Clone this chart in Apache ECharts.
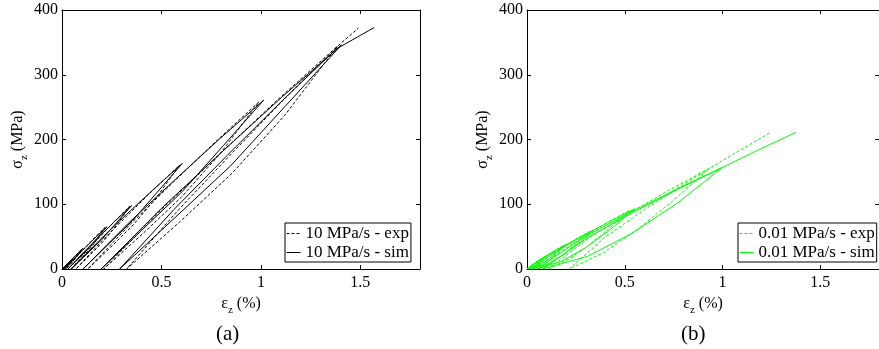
<!DOCTYPE html>
<html>
<head>
<meta charset="utf-8">
<script src="https://cdn.jsdelivr.net/npm/echarts@6/dist/echarts.min.js"></script>
<style>html,body{margin:0;padding:0;background:#fff}#c{width:879px;height:349px}</style>
</head>
<body>
<div id="c"></div>
<script>
// ---- data (strain %, stress MPa) ----
const seriesNames = ['10 MPa/s - exp', '10 MPa/s - sim', '0.01 MPa/s - exp', '0.01 MPa/s - sim'];
const yTicks = [0, 100, 200, 300, 400];
const xTicks = [0, 0.5, 1, 1.5];

const aExp = [[0,0],[0.025,7.5],[0.05,15],[0.029,6.5],[0.008,0],[0.054,16.1],[0.10,31],[0.08,21.4],[0.06,13.3],[0.04,6.5],[0.02,0],[0.069,17.3],[0.1175,33.3],[0.166,49],[0.215,64],[0.1725,44.2],[0.13,27.5],[0.0875,13.4],[0.045,0],[0.119,26.2],[0.1925,50.4],[0.266,74.2],[0.34,97],[0.2725,66.9],[0.205,41.7],[0.1375,20.4],[0.07,0],[0.2,43.2],[0.33,83.2],[0.46,122.4],[0.59,160],[0.475,110.4],[0.36,68.8],[0.245,33.6],[0.13,0],[0.345,69.7],[0.56,134.2],[0.775,197.4],[0.99,258],[0.795,178],[0.6,110.9],[0.405,54.2],[0.21,0],[0.504,92.9],[0.7975,178.9],[1.091,263.2],[1.385,344],[1.12,237.4],[0.855,147.9],[0.59,72.2],[0.325,0],[0.59,92.9],[0.855,178.9],[1.12,263.2],[1.385,344],[1.49,372]];

const aSim = [[0,0],[0.028,8.5],[0.055,16],[0.030,7.4],[0.005,0],[0.055,16.6],[0.105,32],[0.082,23.4],[0.059,14.7],[0.036,7.4],[0.013,0],[0.066,17.6],[0.119,33.8],[0.172,49.7],[0.225,65],[0.176,47.5],[0.1275,29.9],[0.079,15.0],[0.03,0],[0.11,26.5],[0.19,51],[0.27,75],[0.35,98],[0.274,71.5],[0.1985,45.1],[0.123,22.5],[0.047,0],[0.187,44],[0.326,84.8],[0.466,124.7],[0.605,163],[0.480,119],[0.3555,75],[0.231,37.5],[0.106,0],[0.333,70.5],[0.5605,135.7],[0.788,199.7],[1.015,261],[0.811,190.5],[0.606,120],[0.4015,60],[0.197,0],[0.499,93.4],[0.801,179.9],[1.103,264.7],[1.405,346],[1.126,252.6],[0.8475,159.2],[0.569,79.6],[0.29,0],[0.5625,91.8],[0.835,176.8],[1.1075,260],[1.38,340],[1.57,373]];

const bExp = [[0,0],[0.0225,5.9],[0.045,10.5],[0.0675,14.9],[0.09,19],[0.07,13.1],[0.05,7.7],[0.03,3.1],[0.01,0],[0.055,11.4],[0.1,20.5],[0.145,29],[0.19,37],[0.15,25.5],[0.11,15],[0.07,6.1],[0.03,0],[0.1025,17.9],[0.175,32.2],[0.2475,45.4],[0.32,58],[0.255,39.9],[0.19,23.5],[0.125,9.6],[0.06,0],[0.175,27.7],[0.29,50],[0.405,70.5],[0.52,90],[0.4175,61.9],[0.315,36.5],[0.2125,14.9],[0.11,0],[0.315,47.7],[0.52,86],[0.725,121.4],[0.93,155],[0.751,106.6],[0.5725,62.9],[0.394,25.6],[0.215,0],[0.394,47.7],[0.5725,86],[0.751,121.4],[0.93,155],[1.24,210]];

const bSim = [[0,0],[0.025,6.2],[0.05,11.1],[0.075,15.7],[0.1,20],[0.0758,13],[0.0515,7.1],[0.027,2.5],[0.003,0],[0.052,11.7],[0.1015,21.1],[0.151,29.8],[0.2,38],[0.1525,24.7],[0.105,13.5],[0.0575,4.8],[0.01,0],[0.0925,18.5],[0.175,33.3],[0.2575,47],[0.34,60],[0.261,39],[0.1825,21.2],[0.104,7.5],[0.025,0],[0.156,28.6],[0.2875,51.6],[0.419,72.8],[0.55,93],[0.425,60.5],[0.3,32.9],[0.175,11.6],[0.05,0],[0.2875,48.4],[0.525,87.1],[0.7625,122.9],[1.0,157],[0.77,102],[0.54,55.6],[0.31,19.6],[0.08,0],[0.31,48.4],[0.54,87.1],[0.77,122.9],[1.0,157],[1.19,185],[1.375,211]];

// ---- chart ----
const FONT = 'Liberation Serif';
const BLACK = '#000';
const GREEN = '#00ff00';

const chart = echarts.init(document.getElementById('c'), null, {renderer: 'canvas'});

const nameRich = {
  g: {fontFamily: FONT, fontSize: 16, color: BLACK, lineHeight: 24, verticalAlign: 'middle'},
  s: {fontFamily: FONT, fontSize: 11, color: BLACK, lineHeight: 24, verticalAlign: 'bottom'}
};

const axisLineStyle = {show: true, onZero: false, lineStyle: {color: BLACK, width: 1}};
const tickStyle = {show: true, inside: true, length: 4, lineStyle: {color: BLACK}};

function xAxes(grid) {
  return [
    {gridIndex: grid, type: 'value', min: 0, max: 1.8, interval: 0.5, position: 'bottom',
     axisLine: axisLineStyle, axisTick: tickStyle,
     axisLabel: {show: true, fontFamily: FONT, fontSize: 16, color: BLACK, margin: 6, showMaxLabel: false,
       formatter: v => xTicks.indexOf(v) >= 0 ? String(v) : ''},
     splitLine: {show: false},
     name: '{g|ε}{s|z}{g| (%)}', nameLocation: 'middle', nameGap: 14,
     nameTextStyle: {rich: nameRich}},
    {gridIndex: grid, type: 'value', min: 0, max: 1.8, interval: 0.5, position: 'top',
     axisLine: axisLineStyle, axisTick: tickStyle,
     axisLabel: {show: false}, splitLine: {show: false}}
  ];
}
function yAxes(grid) {
  return [
    {gridIndex: grid, type: 'value', min: 0, max: 400, interval: 100, position: 'left',
     axisLine: axisLineStyle, axisTick: tickStyle,
     axisLabel: {show: true, fontFamily: FONT, fontSize: 16, color: BLACK, margin: 4,
       formatter: v => yTicks.indexOf(v) >= 0 ? String(v) : ''},
     splitLine: {show: false},
     name: '{g|σ}{s|z}{g| (MPa)}', nameLocation: 'middle', nameGap: 24, nameRotate: 90,
     nameTextStyle: {rich: nameRich}},
    {gridIndex: grid, type: 'value', min: 0, max: 400, interval: 100, position: 'right',
     axisLine: axisLineStyle, axisTick: tickStyle,
     axisLabel: {show: false}, splitLine: {show: false}}
  ];
}

function lineSeries(name, data, xi, yi, color, dashed) {
  return {
    name: name, type: 'line', data: data, xAxisIndex: xi, yAxisIndex: yi,
    showSymbol: false, symbol: 'none', smooth: false, animation: false,
    lineStyle: {color: color, width: 1, type: dashed ? [3, 2] : 'solid'},
    itemStyle: {color: color}
  };
}

const legendCommon = {
  orient: 'vertical', backgroundColor: '#fff', borderColor: BLACK, borderWidth: 1,
  padding: [2, 2, 1, 1], itemGap: 2, itemWidth: 14, itemHeight: 14, borderRadius: 0,
  textStyle: {fontFamily: FONT, fontSize: 17, color: BLACK},
  itemStyle: {color: 'rgba(0,0,0,0)', borderColor: 'rgba(0,0,0,0)', borderWidth: 0, opacity: 0},
  lineStyle: {width: 1, opacity: 1},
  selectedMode: false
};

chart.setOption({
  animation: false,
  backgroundColor: '#fff',
  grid: [
    {left: 62, top: 10, width: 358, height: 259},
    {left: 527, top: 10, width: 358, height: 259}
  ],
  xAxis: [...xAxes(0), ...xAxes(1)],
  yAxis: [...yAxes(0), ...yAxes(1)],
  legend: [
    Object.assign({}, legendCommon, {left: 285, top: 223, data: [seriesNames[0], seriesNames[1]]}),
    Object.assign({}, legendCommon, {left: 738, top: 223, data: [seriesNames[2], seriesNames[3]]})
  ],
  graphic: [
    {type: 'text', left: 216, top: 324, style: {text: '(a)', fontFamily: FONT, fontSize: 21, fill: BLACK}},
    {type: 'text', left: 681, top: 324, style: {text: '(b)', fontFamily: FONT, fontSize: 21, fill: BLACK}}
  ],
  series: [
    lineSeries(seriesNames[0], aExp, 0, 0, BLACK, true),
    lineSeries(seriesNames[1], aSim, 0, 0, BLACK, false),
    lineSeries(seriesNames[2], bExp, 2, 2, GREEN, true),
    lineSeries(seriesNames[3], bSim, 2, 2, GREEN, false)
  ]
});
</script>
</body>
</html>
